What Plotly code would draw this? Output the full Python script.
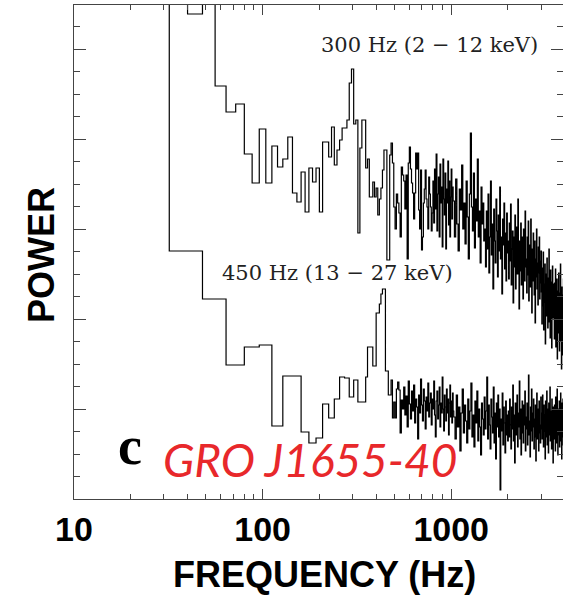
import numpy as np
import plotly.graph_objects as go

# ---------------- data ----------------
# Power spectra (arbitrary power units), 8 Hz bins from 24 Hz up to 1024 Hz,
# then 16 Hz bins from 1024 Hz up to 4096 Hz.
upper_8hz = [560, 560, 485, 560, 413, 387, 395, 345, 316, 370, 316, 353, 332, 340, 362, 306,
             297, 327, 287, 331, 317, 331, 287, 357, 357, 342, 372, 334, 349, 359, 371, 371,
             379, 416, 430, 375, 379, 266, 351, 379, 379, 331, 340, 302, 302, 317, 302, 311,
             284, 300, 311, 329, 349, 349, 239, 239,
             344, 356, 336, 292, 270, 305, 296, 286, 262, 332, 324, 318, 290, 324, 240, 336,
             352, 330, 316, 306, 280, 306, 346, 330, 346, 289, 270, 329, 249, 262, 296, 310,
             329, 300, 292, 270, 322, 305, 292, 268, 286,
             318, 276, 330, 290, 345, 268, 305, 322, 262, 335, 296, 312, 252, 340, 300, 284,
             326, 250, 310, 296, 338, 274, 318, 262, 302, 330, 280, 312]
upper_16hz = [298, 262, 320, 275, 248, 310, 289, 334, 270, 296, 255, 318, 282, 240, 305, 366,
              292, 268, 326, 251, 300, 278, 340, 262, 288, 236, 312, 275, 296, 258,
              270, 232, 288, 250, 305, 226, 262, 318, 244, 275, 210, 290, 258, 236, 300, 268,
              222, 284, 248, 312, 240, 262, 205, 280, 254, 296, 230, 266, 218, 286, 246,
              258, 220, 276, 238, 295, 214, 250, 268, 196, 262, 232, 284, 210, 246, 272, 225,
              300, 238, 190, 258, 228, 276, 214, 244, 262, 200, 270, 236, 218, 288, 232,
              240, 206, 262, 224, 278, 198, 236, 254, 212, 280, 228, 186, 250, 218, 266, 232,
              204, 258, 176, 240, 222, 270, 210, 236, 194, 252, 226, 262, 200, 238, 216, 248,
              207, 175, 231, 193, 247, 169, 215, 197, 235, 155, 211, 225, 183, 241, 199, 171,
              221, 189, 250, 177, 213, 161, 229, 195, 217, 151, 205, 233, 181, 215, 191,
              194, 160, 216, 176, 230, 152, 200, 184, 220, 140, 192, 208, 166, 226, 180, 148,
              206, 170, 235, 158, 194, 130, 212, 176, 190, 144, 204, 220, 162, 186, 126, 198,
              172, 210, 150, 184, 168]

lower_8hz = [560, 248, 248, 200, 200, 134, 134, 152, 152, 154, 154, 73, 73, 123, 123, 123,
             123, 67, 67, 56, 56, 61, 61, 95, 95, 81, 81, 100, 100, 122, 122, 121,
             121, 102, 102, 119, 119, 97, 97, 97, 97, 122, 152, 152, 152, 133, 133, 186,
             186, 195, 205, 210, 210, 128, 128, 104, 104,
             119, 81, 97, 81, 110, 117, 109, 66, 99, 90, 112, 84, 103, 72, 118, 95,
             80, 108, 88, 114, 76, 100, 92, 60, 104, 86, 120, 94, 78, 110, 98, 70,
             102, 88, 116, 82, 96, 106, 74, 100, 90, 118, 84, 62, 98, 108, 80, 94,
             112, 72, 96, 86, 122, 90, 68, 104, 92, 78, 110, 86, 100, 64, 96, 114,
             82, 98, 76, 106, 88]
lower_16hz = [82, 60, 104, 72, 92, 48, 86, 110, 66, 94, 78, 56, 100, 70, 88, 116,
              62, 84, 52, 98, 76, 108, 58, 90, 72, 44, 96, 80, 64, 102,
              70, 88, 122, 60, 94, 74, 50, 100, 82, 66, 112, 56, 86, 40, 96, 72,
              104, 62, 90, 9, 80, 68, 106, 54, 92, 76, 46, 98, 64, 84, 58,
              88, 62, 100, 74, 50, 92, 70, 114, 58, 84, 36, 96, 76, 64, 104, 52,
              86, 72, 118, 60, 90, 44, 80, 98, 66, 56, 94, 74, 108, 48, 82,
              70, 96, 54, 88, 124, 64, 78, 42, 92, 68, 110, 58, 86, 72, 100, 50,
              80, 62, 94, 38, 84, 106, 60, 76, 90, 48, 98, 66, 74, 56, 102, 70,
              86, 60, 104, 72, 52, 94, 68, 84, 40, 98, 76, 62, 108, 54, 90, 70,
              46, 96, 80, 64, 112, 58, 88, 74, 50, 100, 66, 82, 36, 92, 72,
              60, 94, 76, 48, 102, 68, 86, 56, 110, 72, 44, 90, 80, 64, 98, 52,
              84, 70, 106, 58, 88, 40, 96, 74, 62, 100, 54, 82, 68, 92, 46, 78,
              104, 60, 86, 72, 66]

f_start = 24.0      # Hz, first bin edge
df_fine = 8.0       # Hz
df_coarse = 16.0    # Hz

x_tickvals = [10, 100, 1000]
x_ticktext = ["10", "100", "1000"]
x_minor = [20, 30, 40, 50, 60, 70, 80, 90, 200, 300, 400, 500, 600, 700, 800, 900, 2000, 3000]
y_major = [0, 90, 180, 270, 360, 450]

label_upper = "300 Hz (2 \u2212 12 keV)"
label_lower = "450 Hz (13 \u2212 27 keV)"
panel_letter = "c"
source_name = "GRO J1655-40"


def step_xy(fine, coarse):
    n1 = len(fine)
    e1 = f_start + df_fine * np.arange(n1 + 1)
    e2 = e1[-1] + df_coarse * np.arange(len(coarse) + 1)
    edges = np.concatenate([e1, e2[1:]])
    vals = list(fine) + list(coarse)
    return list(edges), vals + [vals[-1]]


xu, yu = step_xy(upper_8hz, upper_16hz)
xl, yl = step_xy(lower_8hz, lower_16hz)

# ---------------- figure ----------------
Wfig, Hfig = 563, 595
L, T, R, B = 74, 5, 0, 96
PW, PH = Wfig - L - R, Hfig - T - B

fig = go.Figure()
for xs, ys in [(xu, yu), (xl, yl)]:
    fig.add_trace(go.Scatter(x=xs, y=ys, mode="lines", line=dict(color="#000", width=1.2, shape="hv"),
                             hoverinfo="skip", showlegend=False))

decade = 188.6
fig.update_layout(
    width=Wfig, height=Hfig, margin=dict(l=L, r=R, t=T, b=B),
    paper_bgcolor="white", plot_bgcolor="white",
    xaxis=dict(type="log", range=[1, 1 + PW / decade], showgrid=False, zeroline=False,
               showline=True, linecolor="#444", linewidth=1, mirror="allticks",
               ticks="inside", ticklen=10, tickcolor="#444",
               tickmode="array", tickvals=x_tickvals, ticktext=x_ticktext,
               tickfont=dict(family="Liberation Sans", size=34, color="black", weight="bold"),
               minor=dict(ticks="inside", ticklen=5, tickcolor="#444", tickmode="array",
                          tickvals=x_minor, showgrid=False)),
    yaxis=dict(range=[0, PH], showgrid=False, zeroline=False, showline=True,
               linecolor="#444", linewidth=1, mirror="allticks",
               ticks="inside", ticklen=12, tickcolor="#444",
               tickmode="array", tickvals=y_major, showticklabels=False,
               minor=dict(ticks="inside", ticklen=6, tickcolor="#444", dtick=22.5, tick0=0,
                          showgrid=False)),
)


def px(xp):
    return (xp - L) / PW


def py(yp):
    return (Hfig - B - yp) / PH


def note(text, xp, yp, font, angle=0):
    fig.add_annotation(text=text, x=px(xp), y=py(yp), xref="paper", yref="paper",
                       xanchor="center", yanchor="middle", showarrow=False,
                       textangle=angle, font=font)


note(label_upper, 429, 45, dict(family="DejaVu Serif", size=21, color="#222"))
note(label_lower, 337, 273, dict(family="DejaVu Serif", size=21, color="#222"))
note(panel_letter, 130, 446, dict(family="Liberation Serif", size=54, color="black", weight="bold"))
note(source_name, 310, 459, dict(family="Comic Sans MS, Lato", size=46, color="#e8282b", style="italic"))
note("FREQUENCY (Hz)", 324, 574, dict(family="Liberation Sans", size=36, color="black", weight="bold"))
note("POWER", 41, 255, dict(family="Liberation Sans", size=36, color="black", weight="bold"), angle=-90)

fig.write_html("out.html")
